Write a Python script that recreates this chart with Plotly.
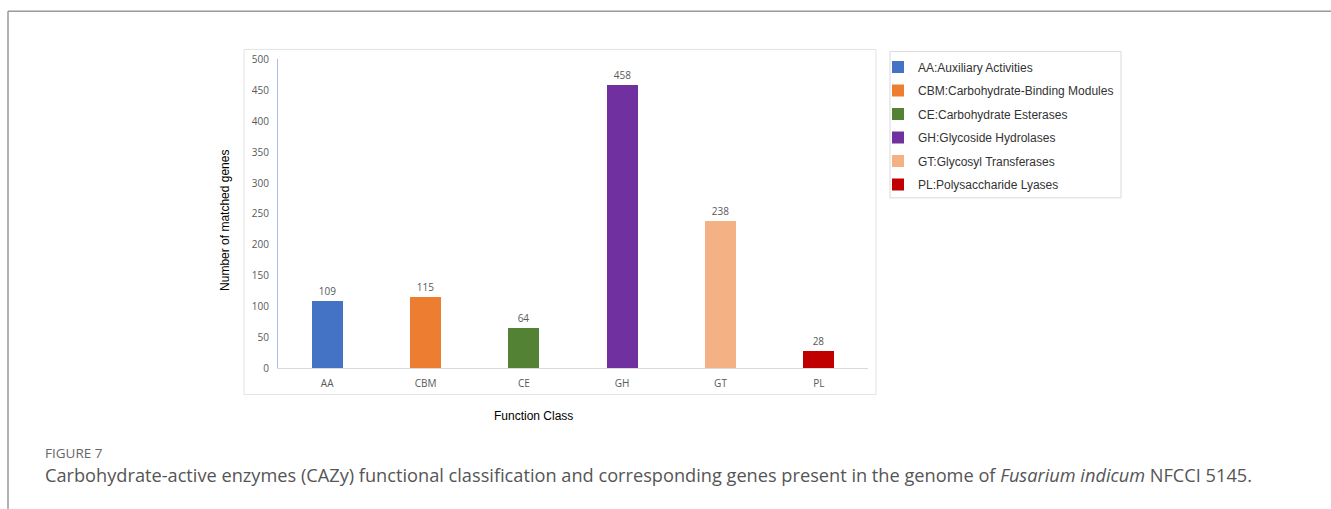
import plotly.graph_objects as go

# CAZy function classes and matched gene counts
classes = ["AA", "CBM", "CE", "GH", "GT", "PL"]
descriptions = [
    "AA:Auxiliary Activities",
    "CBM:Carbohydrate-Binding Modules",
    "CE:Carbohydrate Esterases",
    "GH:Glycoside Hydrolases",
    "GT:Glycosyl Transferases",
    "PL:Polysaccharide Lyases",
]
gene_counts = [109, 115, 64, 458, 238, 28]
bar_colors = ["#4472C4", "#ED7D31", "#548235", "#7030A0", "#F4B183", "#C00000"]
y_ticks = [0, 50, 100, 150, 200, 250, 300, 350, 400, 450, 500]

# figure size and page-to-figure coordinate helpers
W, H = 1331, 517
Y_OFF, Y_SCALE = 7.7, 0.97

def px(x):
    return x / W

def py(y):
    return 1 - ((y - Y_OFF) / Y_SCALE) / H

fig = go.Figure()
for cls, desc, n, col in zip(classes, descriptions, gene_counts, bar_colors):
    fig.add_trace(go.Bar(
        x=[cls], y=[n], name=desc, legendgroup=cls,
        marker=dict(color=col, line=dict(width=0)),
        width=0.315,
        text=[str(n)], textposition="outside",
        textfont=dict(family="Open Sans, Liberation Sans", size=10, color="#595959"),
        cliponaxis=False,
    ))

fig.update_layout(
    width=W, height=H,
    margin=dict(l=0, r=0, t=0, b=0),
    paper_bgcolor="white", plot_bgcolor="white",
    barmode="overlay",
    bargap=0,
    showlegend=True,
    legend=dict(
        x=px(878), y=py(53), xanchor="left", yanchor="top",
        borderwidth=0, bgcolor="rgba(0,0,0,0)",
        font=dict(family="Liberation Sans, Arial", size=12, color="#333333"),
        tracegroupgap=4.5,
        itemwidth=30,
    ),
    xaxis=dict(
        domain=[px(278), px(868)],
        categoryorder="array", categoryarray=classes,
        showline=True, linecolor="#D9D9D9", linewidth=1,
        ticks="", showgrid=False, zeroline=False,
        tickfont=dict(family="Open Sans, Liberation Sans", size=10, color="#595959"),
        ticklabelstandoff=6,
    ),
    yaxis=dict(
        domain=[py(368), py(60)],
        range=[0, 500], tickvals=y_ticks,
        showline=True, linecolor="#A9BEE6", linewidth=1,
        ticks="", showgrid=False, zeroline=False,
        tickfont=dict(family="Open Sans, Liberation Sans", size=10, color="#595959"),
        ticklabelstandoff=6,
    ),
    font=dict(family="Liberation Sans, Arial"),
)

shapes = [
    # chart frame
    dict(type="rect", xref="paper", yref="paper",
         x0=px(244), x1=px(876), y0=py(394), y1=py(50),
         line=dict(color="#E3E3E3", width=1), layer="below"),
    # legend frame
    dict(type="rect", xref="paper", yref="paper",
         x0=px(890), x1=px(1121), y0=py(198), y1=py(52),
         line=dict(color="#D9D9D9", width=1), layer="below"),
    # figure panel border (top and left)
    dict(type="line", xref="paper", yref="paper",
         x0=px(8), x1=1, y0=py(12), y1=py(12),
         line=dict(color="#999999", width=1.5)),
    dict(type="line", xref="paper", yref="paper",
         x0=px(8), x1=px(8), y0=py(12), y1=0,
         line=dict(color="#999999", width=1.5)),
]
fig.update_layout(shapes=shapes)

annotations = [
    dict(text="Number of matched genes", textangle=-90,
         x=px(225), y=py(221), xref="paper", yref="paper",
         xanchor="center", yanchor="middle",
         showarrow=False, font=dict(family="Liberation Sans, Arial", size=12, color="#000000")),
    dict(text="Function Class",
         x=px(533), y=py(415), xref="paper", yref="paper",
         xanchor="center", yanchor="middle",
         showarrow=False, font=dict(family="Liberation Sans, Arial", size=12, color="#000000")),
    dict(text="FIGURE 7",
         x=px(43), y=py(452), xref="paper", yref="paper", xanchor="left", yanchor="middle",
         showarrow=False, font=dict(family="Open Sans", size=13.5, color="#666666")),
    dict(text="Carbohydrate-active enzymes (CAZy) functional classification and corresponding genes "
              "present in the genome of <i>Fusarium indicum</i> NFCCI 5145.",
         x=px(43), y=py(474), xref="paper", yref="paper", xanchor="left", yanchor="middle",
         showarrow=False, font=dict(family="Open Sans", size=18.2, color="#555555")),
]
fig.update_layout(annotations=annotations)

fig.write_html("out.html")
